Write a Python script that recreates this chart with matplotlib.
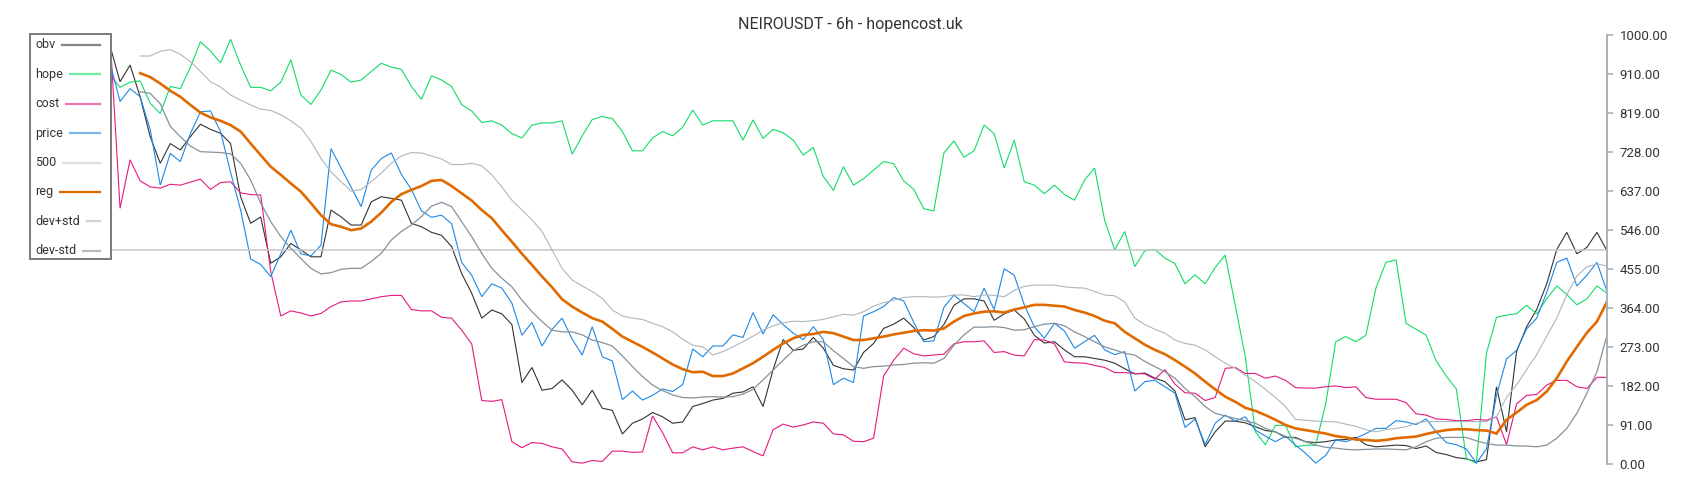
import numpy as np
import matplotlib
matplotlib.use("Agg")
import matplotlib.pyplot as plt
from matplotlib.patches import Rectangle
from matplotlib.lines import Line2D

plt.rcParams['font.family'] = ['Roboto', 'DejaVu Sans']

title = "NEIROUSDT - 6h - hopencost.uk"
nan = np.nan

obv = [975, 891, 930, 856, 763, 701, 747, 732, 763, 792, 780, 771, 747, 623, 561, 576, 468, 483, 514, 499, 483, 483, 592, 576, 557,
       557, 611, 623, 619, 615, 561, 553, 540, 533, 507, 444, 398, 340, 359, 350, 325, 190, 225, 172, 176, 196, 172, 138, 172, 130,
       125, 70, 95, 105, 120, 110, 95, 98, 134, 141, 149, 153, 165, 168, 180, 134, 220, 290, 265, 268, 295, 270, 230, 222, 219,
       260, 281, 316, 326, 340, 318, 289, 297, 325, 370, 385, 385, 380, 335, 350, 359, 338, 300, 282, 285, 266, 250, 250, 246, 242,
       235, 222, 210, 212, 200, 192, 170, 103, 108, 40, 75, 100, 100, 96, 87, 78, 75, 62, 62, 52, 50, 52, 56, 57, 62,
       45, 40, 42, 44, 43, 36, 42, 27, 22, 15, 12, 5, 10, 180, 75, 262, 320, 360, 420, 500, 540, 490, 505, 540, 497]

hope = [907, 878, 890, 893, 841, 817, 880, 875, 925, 984, 963, 935, 990, 930, 878, 878, 870, 890, 942, 860, 838, 872, 918, 908, 890,
        895, 915, 934, 925, 920, 880, 850, 905, 895, 880, 838, 823, 796, 800, 790, 770, 760, 790, 795, 795, 800, 722, 765, 803, 810,
        805, 775, 730, 730, 760, 775, 765, 785, 825, 790, 800, 800, 800, 755, 802, 759, 780, 772, 755, 720, 738, 670, 638, 693, 650,
        665, 685, 705, 700, 660, 640, 595, 590, 725, 753, 715, 730, 790, 770, 690, 755, 658, 650, 630, 650, 628, 615, 662, 690, 568,
        499, 542, 460, 497, 500, 480, 467, 420, 441, 420, 458, 487, 370, 250, 75, 45, 90, 90, 40, 44, 44, 140, 285, 297, 285,
        300, 410, 470, 476, 328, 314, 300, 240, 205, 175, 13, 2, 258, 342, 347, 350, 370, 350, 385, 415, 395, 371, 385, 415, 398]

cost = [1000, 596, 709, 660, 646, 643, 652, 650, 657, 664, 640, 656, 658, 632, 628, 627, 448, 345, 357, 352, 345, 351, 367, 378, 380,
        380, 385, 390, 393, 393, 360, 357, 357, 342, 340, 312, 280, 148, 146, 150, 52, 38, 50, 48, 40, 35, 5, 2, 8, 6,
        30, 30, 27, 28, 112, 73, 26, 26, 40, 33, 40, 33, 37, 40, 29, 19, 80, 93, 86, 91, 98, 95, 70, 68, 53,
        52, 60, 205, 242, 270, 257, 252, 254, 256, 280, 285, 285, 287, 260, 262, 254, 252, 290, 289, 280, 238, 236, 235, 230, 225,
        213, 213, 211, 210, 198, 220, 186, 166, 165, 148, 155, 223, 225, 211, 211, 200, 205, 195, 178, 177, 177, 180, 182, 178, 180,
        155, 151, 151, 151, 143, 117, 114, 105, 104, 101, 101, 104, 102, 110, 45, 140, 160, 162, 184, 195, 195, 180, 176, 202, 202]

price = [935, 845, 875, 856, 780, 650, 724, 705, 770, 821, 823, 775, 680, 592, 478, 465, 437, 490, 545, 490, 485, 510, 735, 690, 645,
         600, 685, 712, 725, 675, 640, 590, 575, 580, 560, 470, 440, 390, 420, 410, 375, 300, 330, 275, 314, 340, 291, 254, 320, 250,
         240, 150, 170, 149, 160, 175, 169, 185, 268, 250, 275, 275, 301, 295, 353, 303, 348, 325, 305, 290, 320, 290, 185, 200, 190,
         345, 355, 367, 388, 380, 330, 285, 287, 365, 394, 374, 355, 410, 360, 455, 440, 371, 320, 293, 328, 310, 270, 285, 300, 266,
         255, 262, 170, 192, 195, 180, 165, 85, 105, 45, 95, 114, 100, 110, 79, 65, 52, 65, 44, 25, 2, 20, 56, 52, 60,
         71, 83, 83, 101, 98, 92, 105, 75, 50, 45, 35, 2, 35, 160, 245, 265, 315, 340, 400, 470, 480, 415, 440, 470, 402]

level500 = [500] * 150

reg = [nan, nan, nan, 911, 902, 887, 870, 856, 837, 819, 808, 800, 790, 775, 747, 720, 693, 674, 654, 635, 608, 580, 559, 553, 545,
       549, 565, 586, 611, 629, 639, 648, 660, 662, 648, 631, 614, 592, 573, 545, 518, 490, 464, 437, 412, 384, 367, 353, 340, 332,
       315, 297, 285, 273, 260, 246, 232, 221, 214, 215, 205, 205, 211, 223, 235, 250, 266, 281, 293, 301, 303, 308, 305, 297, 289,
       289, 293, 297, 302, 306, 310, 312, 311, 316, 332, 345, 351, 355, 356, 353, 360, 365, 371, 371, 369, 367, 359, 353, 345, 334,
       328, 308, 293, 278, 266, 256, 242, 227, 211, 192, 174, 157, 145, 131, 124, 114, 103, 91, 83, 79, 75, 71, 65, 62, 57,
       56, 54, 56, 60, 62, 64, 70, 75, 79, 81, 81, 79, 78, 71, 103, 120, 138, 149, 169, 200, 239, 273, 306, 332, 378]

dev_plus = [nan, nan, nan, 951, 951, 962, 966, 955, 938, 915, 891, 879, 860, 848, 837, 827, 824, 814, 800, 783, 752, 712, 681, 658, 636,
            640, 658, 678, 701, 718, 726, 725, 718, 711, 698, 698, 701, 695, 674, 646, 615, 592, 569, 542, 499, 456, 429, 415, 402, 386,
            359, 345, 340, 337, 328, 320, 308, 291, 277, 273, 254, 262, 273, 285, 298, 312, 322, 329, 333, 332, 334, 337, 343, 349, 347,
            355, 368, 376, 382, 388, 390, 390, 389, 390, 394, 394, 390, 394, 393, 390, 405, 414, 417, 417, 417, 413, 411, 410, 402, 394,
            392, 378, 340, 325, 314, 305, 289, 281, 277, 266, 250, 235, 223, 207, 192, 174, 155, 134, 104, 102, 100, 99, 98, 93, 88,
            80, 75, 80, 83, 87, 95, 99, 99, 99, 99, 99, 99, 99, 110, 155, 185, 220, 255, 298, 340, 395, 438, 460, 466, 462]

dev_minus = [nan, nan, nan, 868, 864, 840, 787, 763, 741, 728, 727, 726, 723, 701, 662, 608, 565, 530, 503, 479, 456, 443, 446, 454, 456,
             456, 472, 491, 522, 542, 557, 577, 601, 610, 600, 565, 530, 491, 456, 433, 413, 382, 355, 332, 312, 308, 308, 301, 289, 283,
             275, 252, 227, 204, 184, 171, 161, 155, 154, 156, 157, 156, 157, 163, 174, 196, 219, 242, 264, 277, 285, 285, 264, 246, 227,
             223, 227, 228, 231, 232, 235, 236, 235, 246, 277, 301, 319, 319, 320, 318, 312, 313, 320, 326, 328, 322, 308, 297, 285, 273,
             266, 258, 254, 239, 227, 215, 200, 176, 157, 134, 118, 112, 106, 101, 95, 83, 75, 64, 60, 52, 44, 39, 37, 34, 33,
             34, 35, 35, 34, 33, 40, 52, 60, 62, 62, 62, 54, 48, 44, 44, 42, 42, 40, 44, 60, 83, 118, 165, 215, 300]

labels = ["obv", "hope", "cost", "price", "500", "reg", "dev+std", "dev-std"]
yticks = [0, 91, 182, 273, 364, 455, 546, 637, 728, 819, 910, 1000]

series = [obv, hope, cost, price, level500, reg, dev_plus, dev_minus]
colors = ["#333333", "#12DC68", "#E5197E", "#1E88E5", "#C8C8C8", "#E06A00", "#AEB6BD", "#85929C"]
widths = [0.8, 0.8, 0.8, 0.8, 1.1, 1.9, 0.8, 0.9]

W, H = 1700, 500
fig = plt.figure(figsize=(W / 100, H / 100), dpi=100)
ax = fig.add_axes([110 / W, 36 / H, (1607 - 110) / W, (464 - 35) / H])

x = np.arange(len(obv))
for s, c, lw in zip(series, colors, widths):
    ax.plot(x, np.array(s, dtype=float), color=c, lw=lw, solid_joinstyle='miter')

ax.set_xlim(0, len(obv) - 1)
ax.set_ylim(0, 1000)
for sp in ["top", "left", "bottom"]:
    ax.spines[sp].set_visible(False)
ax.spines["right"].set_color("#A9B2B9")
ax.spines["right"].set_linewidth(1.4)
ax.set_xticks([])
ax.yaxis.tick_right()
ax.set_yticks(yticks)
ax.set_yticklabels([f"{v:.2f}" for v in yticks])
ax.tick_params(axis="y", direction="out", length=4, width=1.2, color="#A9B2B9",
               labelcolor="#333333", labelsize=9.5, pad=5)

fig.text(0.5, 1 - 24 / H, title, ha="center", va="center", fontsize=11.5, color="#333333")

# legend box
def fx(px):
    return px / W

def fy(py):
    return 1 - py / H

box = Rectangle((fx(30), fy(259)), fx(111) - fx(30), fy(34) - fy(259), transform=fig.transFigure,
                facecolor="white", edgecolor="#7a7a7a", lw=1.4, zorder=10)
fig.patches.append(box)
fig.canvas.draw()
renderer = fig.canvas.get_renderer()
for k, (lab, c) in enumerate(zip(labels, colors)):
    yy = 45 + 29.4 * k
    t = fig.text(fx(35), fy(yy), lab, ha="left", va="center", fontsize=9, color="#333333", zorder=11)
    ext = t.get_window_extent(renderer)
    x0 = ext.x1 + 7
    alpha = 1.0 if lab == "reg" else 0.6
    ln = Line2D([fx(x0), fx(100)], [fy(yy), fy(yy)], transform=fig.transFigure, color=c,
                lw=1.6, alpha=alpha, zorder=11)
    fig.lines.append(ln)

fig.savefig("out.png", dpi=100)
